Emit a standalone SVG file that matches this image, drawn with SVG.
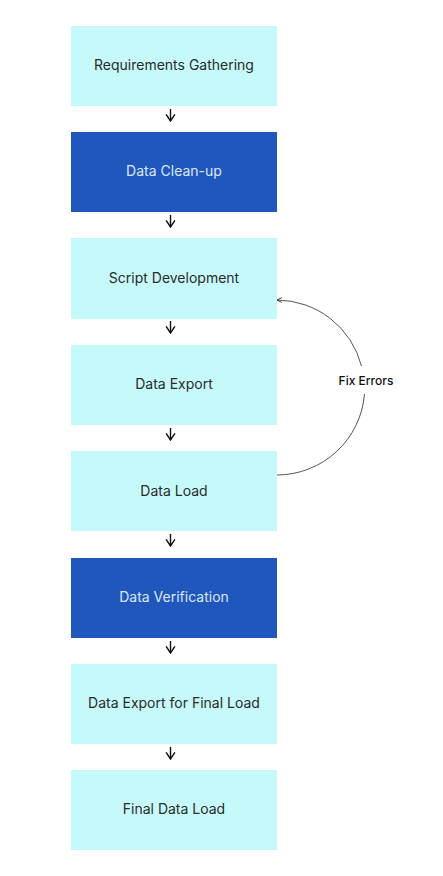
<svg xmlns="http://www.w3.org/2000/svg" width="443" height="876" viewBox="0 0 443 876">
<style>
.lt{fill:#c6fafa}
.dk{fill:#1f57bd}
.t{font-family:Inter,"Liberation Sans",sans-serif;font-size:14px;text-anchor:middle;dominant-baseline:central}
.tl{fill:#2b2b2b}
.td{fill:#dce6fa}
.c{stroke:#111;stroke-width:1.4;fill:none}
.a{stroke:#555;stroke-width:1;fill:none}
</style>
<defs>
<marker id="ah" viewBox="0 0 10 10" refX="9" refY="5" markerWidth="11" markerHeight="11" orient="auto" markerUnits="userSpaceOnUse">
<path d="M3,1 L9,5 L3,9" fill="none" stroke="#111" stroke-width="1.3"/>
</marker>
<marker id="ah2" viewBox="0 0 10 10" refX="9" refY="5" markerWidth="6" markerHeight="6" orient="auto" markerUnits="userSpaceOnUse">
<path d="M1,1 L9,5 L1,9" fill="none" stroke="#333" stroke-width="1.6"/>
</marker>
</defs>
<rect width="443" height="876" fill="#fff"/>
<g id="n1"><rect class="lt" x="71" y="26" width="206" height="80"/><text class="t tl" x="174" y="64">Requirements Gathering</text></g>
<g id="n2"><rect class="dk" x="71" y="132" width="206" height="80"/><text class="t td" x="174" y="170">Data Clean-up</text></g>
<g id="n3"><rect class="lt" x="71" y="238" width="206" height="81"/><text class="t tl" x="174" y="277">Script Development</text></g>
<g id="n4"><rect class="lt" x="71" y="345" width="206" height="80"/><text class="t tl" x="174" y="383">Data Export</text></g>
<g id="n5"><rect class="lt" x="71" y="451" width="206" height="80"/><text class="t tl" x="174" y="490">Data Load</text></g>
<g id="n6"><rect class="dk" x="71" y="558" width="206" height="80"/><text class="t td" x="174" y="596">Data Verification</text></g>
<g id="n7"><rect class="lt" x="71" y="664" width="206" height="80"/><text class="t tl" x="174" y="702">Data Export for Final Load</text></g>
<g id="n8"><rect class="lt" x="71" y="770" width="206" height="80"/><text class="t tl" x="174" y="808">Final Data Load</text></g>
<g id="connectors">
<line class="c" x1="170.5" y1="109" x2="170.5" y2="121" marker-end="url(#ah)"/>
<line class="c" x1="170.5" y1="215" x2="170.5" y2="227" marker-end="url(#ah)"/>
<line class="c" x1="170.5" y1="321" x2="170.5" y2="333" marker-end="url(#ah)"/>
<line class="c" x1="170.5" y1="428" x2="170.5" y2="440" marker-end="url(#ah)"/>
<line class="c" x1="170.5" y1="534" x2="170.5" y2="546" marker-end="url(#ah)"/>
<line class="c" x1="170.5" y1="641" x2="170.5" y2="653" marker-end="url(#ah)"/>
<line class="c" x1="170.5" y1="747" x2="170.5" y2="759" marker-end="url(#ah)"/>
<path class="a" d="M277,475 A88,88 0 0 0 364.5,394"/>
<path class="a" d="M361.5,366 A88,88 0 0 0 277,300" marker-end="url(#ah2)"/>
<text x="366" y="380" font-family="Inter,'Liberation Sans',sans-serif" font-size="12" font-weight="500" fill="#111" text-anchor="middle" dominant-baseline="central">Fix Errors</text>
</g>
</svg>
